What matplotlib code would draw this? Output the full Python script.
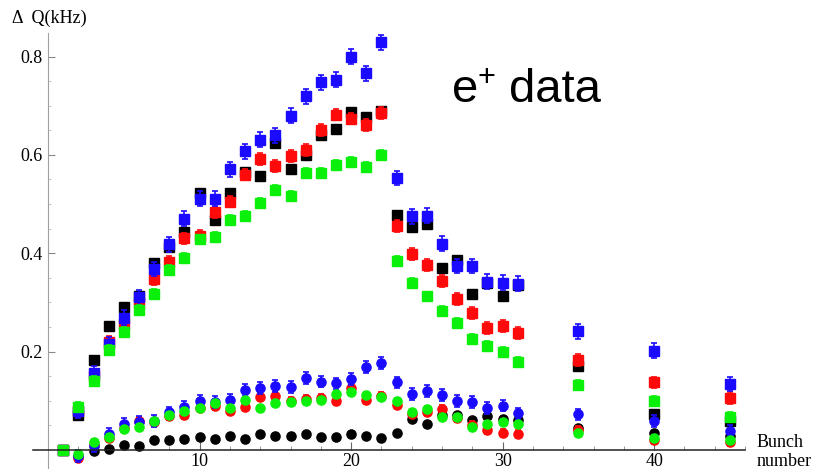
import matplotlib
matplotlib.use("Agg")
import matplotlib.pyplot as plt
from matplotlib.ticker import MultipleLocator, FixedLocator
import numpy as np

# bunch positions along the train
bunches = list(range(1, 32)) + [35, 40, 45]

# tune shift, upper family (squares)
upper_black = [0, 0.070, 0.182, 0.252, 0.291, 0.313, 0.380, 0.412, 0.444, 0.522,
               0.468, 0.522, 0.565, 0.557, 0.624, 0.571, 0.600, 0.640, 0.652, 0.688,
               0.678, 0.690, 0.478, 0.454, 0.460, 0.370, 0.387, 0.317, 0.340, 0.312,
               0.335, 0.171, 0.073, 0.058]
upper_red = [0, 0.078, 0.150, 0.220, 0.256, 0.299, 0.347, 0.383, 0.430, 0.435,
             0.483, 0.505, 0.560, 0.591, 0.578, 0.597, 0.610, 0.651, 0.682, 0.674,
             0.661, 0.685, 0.456, 0.399, 0.376, 0.344, 0.307, 0.279, 0.248, 0.252,
             0.237, 0.183, 0.137, 0.105]
upper_blue = [0, 0.080, 0.156, 0.215, 0.269, 0.310, 0.368, 0.418, 0.470, 0.511,
              0.511, 0.571, 0.607, 0.631, 0.640, 0.680, 0.719, 0.748, 0.753, 0.800,
              0.766, 0.829, 0.553, 0.475, 0.476, 0.419, 0.374, 0.374, 0.342, 0.340,
              0.338, 0.241, 0.202, 0.134]
upper_green = [0, 0.088, 0.141, 0.203, 0.240, 0.285, 0.318, 0.366, 0.390, 0.428,
               0.433, 0.468, 0.475, 0.503, 0.529, 0.517, 0.563, 0.564, 0.580, 0.585,
               0.576, 0.600, 0.385, 0.340, 0.312, 0.283, 0.258, 0.225, 0.212, 0.200,
               0.178, 0.132, 0.100, 0.066]

# tune shift, lower family (circles)
lower_black = [0, -0.012, -0.003, 0.002, 0.010, 0.008, 0.019, 0.019, 0.022, 0.027,
               0.022, 0.028, 0.022, 0.032, 0.029, 0.028, 0.033, 0.027, 0.027, 0.032,
               0.029, 0.025, 0.035, 0.062, 0.052, 0.070, 0.071, 0.061, 0.069, 0.062,
               0.060, 0.045, 0.035, 0.028]
lower_red = [0, -0.017, 0.010, 0.024, 0.044, 0.058, 0.057, 0.069, 0.071, 0.085,
             0.089, 0.080, 0.088, 0.107, 0.109, 0.100, 0.103, 0.105, 0.099, 0.125,
             0.101, 0.110, 0.092, 0.072, 0.076, 0.083, 0.064, 0.050, 0.041, 0.034,
             0.032, 0.041, 0.020, 0.015]
lower_blue = [0, -0.012, 0.008, 0.032, 0.052, 0.056, 0.058, 0.076, 0.087, 0.100,
              0.098, 0.101, 0.121, 0.126, 0.130, 0.128, 0.146, 0.139, 0.135, 0.144,
              0.169, 0.176, 0.137, 0.114, 0.120, 0.111, 0.100, 0.098, 0.085, 0.090,
              0.074, 0.072, 0.058, 0.039]
lower_green = [0, -0.009, 0.016, 0.027, 0.042, 0.047, 0.058, 0.070, 0.080, 0.085,
               0.096, 0.085, 0.102, 0.085, 0.095, 0.098, 0.100, 0.102, 0.113, 0.117,
               0.112, 0.108, 0.100, 0.077, 0.083, 0.066, 0.067, 0.047, 0.052, 0.057,
               0.053, 0.034, 0.025, 0.019]

# measurement errors per series
err_upper = {"black": 0.0, "red": 0.012, "blue": 0.015, "green": 0.010}
err_lower = {"black": 0.0, "red": 0.008, "blue": 0.012, "green": 0.006}

colors = {"black": "#000000", "red": "#ff0a0a", "blue": "#1a0aff", "green": "#0af00a"}

fig = plt.figure(figsize=(8.17, 4.69), dpi=100)
ax = fig.add_axes([33 / 817, 0, 712 / 817, 436 / 469])

upper = {"black": upper_black, "red": upper_red, "blue": upper_blue, "green": upper_green}
lower = {"black": lower_black, "red": lower_red, "blue": lower_blue, "green": lower_green}

x = np.array(bunches)

# draw black first so green ends up on top
for name in ["black", "red", "blue", "green"]:
    for data, errs, mk, ms in [(lower, err_lower, "o", 6.6), (upper, err_upper, "s", 6.8)]:
        y = np.array(data[name])
        c = colors[name]
        e = errs[name]
        if e > 0:
            # first bunch is the reference point, no error bar there
            ax.errorbar(x[1:], y[1:], yerr=e, fmt="none", ecolor=c,
                        elinewidth=1.2, capsize=2.2, capthick=1.2)
        ax.plot(x, y, mk, ms=ms, color=c, mec=c)

ax.set_xlim(-1, 46)
ax.set_ylim(-0.039, 0.848)

# axes crossing at the origin, no box
for side in ["top", "right"]:
    ax.spines[side].set_visible(False)
ax.spines["left"].set_position(("data", 0))
ax.spines["bottom"].set_position(("data", 0))
ax.spines["left"].set_color("#a0a0a0")
ax.spines["bottom"].set_color("#222222")
ax.spines["bottom"].set_linewidth(1.1)

ax.xaxis.set_major_locator(FixedLocator([10, 20, 30, 40]))
ax.xaxis.set_minor_locator(MultipleLocator(2))
ax.yaxis.set_major_locator(FixedLocator([0.2, 0.4, 0.6, 0.8]))
ax.yaxis.set_minor_locator(MultipleLocator(0.05))
ax.tick_params(axis="x", which="major", direction="in", length=6, width=0.8, color="#666666", pad=2)
ax.tick_params(axis="x", which="minor", direction="in", length=3, width=0.6, color="#888888")
ax.tick_params(axis="y", which="major", direction="in", length=5, width=0.8, color="#888888", pad=4)
ax.tick_params(axis="y", which="minor", direction="in", length=2.5, width=0.6, color="#bbbbbb")
ax.set_xticklabels(["10", "20", "30", "40"])
ax.set_yticklabels(["0.2", "0.4", "0.6", "0.8"])
for lab in ax.get_xticklabels() + ax.get_yticklabels():
    lab.set_family("Liberation Serif")
    lab.set_fontsize(13)

# axis labels
fig.text(12 / 817, 1 - 23 / 469, "Δ  Q(kHz)", family="Liberation Serif", fontsize=13, va="baseline")
fig.text(757 / 817, 1 - 447 / 469, "Bunch", family="Liberation Serif", fontsize=13, va="baseline")
fig.text(757 / 817, 1 - 466 / 469, "number", family="Liberation Serif", fontsize=13, va="baseline")

# panel title
fig.text(452 / 817, 1 - 102 / 469, "e", family="Liberation Sans", fontsize=34, va="baseline")
fig.text(477 / 817, 1 - 86 / 469, "+", family="Liberation Sans", fontsize=22, va="baseline")
fig.text(509 / 817, 1 - 102 / 469, "data", family="Liberation Sans", fontsize=34, va="baseline")

fig.savefig("out.png", dpi=100)
